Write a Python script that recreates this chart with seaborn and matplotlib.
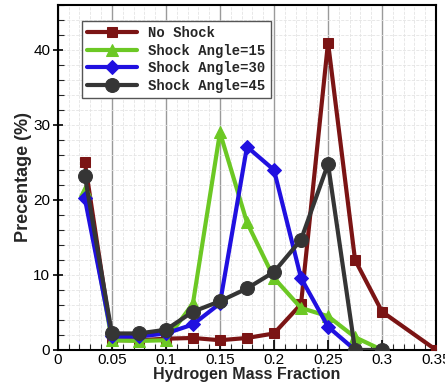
import numpy as np
import pandas as pd
import matplotlib
matplotlib.use("Agg")
import matplotlib.pyplot as plt
from matplotlib.ticker import MultipleLocator
import seaborn as sns

x_no = [0.025, 0.05, 0.075, 0.1, 0.125, 0.15, 0.175, 0.2, 0.225, 0.25, 0.275, 0.3, 0.35]
y_no = [25, 1.3, 1.3, 1.5, 1.6, 1.3, 1.6, 2.2, 6.1, 41, 12, 5.1, 0]

x_15 = [0.025, 0.05, 0.075, 0.1, 0.125, 0.15, 0.175, 0.2, 0.225, 0.25, 0.275, 0.3]
y_15 = [21.3, 1.3, 1.2, 1.3, 6.2, 29, 17, 9.6, 5.6, 4.5, 1.7, 0]

x_30 = [0.025, 0.05, 0.075, 0.1, 0.125, 0.15, 0.175, 0.2, 0.225, 0.25, 0.275]
y_30 = [20.2, 1.8, 1.8, 2.2, 3.4, 6.2, 27.1, 24, 9.6, 3.1, 0]

x_45 = [0.025, 0.05, 0.075, 0.1, 0.125, 0.15, 0.175, 0.2, 0.225, 0.25, 0.275, 0.3]
y_45 = [23.2, 2.2, 2.2, 2.7, 5.1, 6.5, 8.2, 10.4, 14.7, 24.8, 0, 0]

labels = ["No Shock", "Shock Angle=15", "Shock Angle=30", "Shock Angle=45"]
x_ticklabels = ["0", "0.05", "0.1", "0.15", "0.2", "0.25", "0.3", "0.35"]
colors = ["#7b1414", "#6cc824", "#2010e0", "#353535"]
markers = ["s", "^", "D", "o"]
msizes = [7.5, 8, 7.5, 10]

xs = [x_no, x_15, x_30, x_45]
ys = [y_no, y_15, y_30, y_45]

frames = []
for lab, xv, yv in zip(labels, xs, ys):
    frames.append(pd.DataFrame({"x": xv, "y": yv, "series": lab}))
df = pd.concat(frames, ignore_index=True)

sns.set_style("white")
plt.rcParams["font.family"] = ["Liberation Sans", "DejaVu Sans"]
fig = plt.figure(figsize=(4.45, 3.85), dpi=100)
ax = fig.add_axes([0.130, 0.091, 0.850, 0.896])

ax.set_xlim(0, 0.35)
ax.set_ylim(0, 46)
ax.xaxis.set_major_locator(MultipleLocator(0.05))
ax.xaxis.set_minor_locator(MultipleLocator(0.01))
ax.yaxis.set_major_locator(MultipleLocator(10))
ax.yaxis.set_minor_locator(MultipleLocator(2))
ax.grid(True, which="minor", color="#e4e4e4", linewidth=0.6, linestyle="--")
ax.grid(True, which="major", axis="x", color="#9a9a9a", linewidth=1.0)
ax.grid(True, which="major", axis="y", color="#e4e4e4", linewidth=0.6, linestyle="--")
ax.set_axisbelow(True)

for i, lab in enumerate(labels):
    sub = df[df["series"] == lab]
    sns.lineplot(data=sub, x="x", y="y", ax=ax, color=colors[i], marker=markers[i],
                 markersize=msizes[i], markeredgecolor=colors[i], linewidth=3,
                 label=lab, clip_on=True, zorder=3 + i)

for sp in ax.spines.values():
    sp.set_color("black")
    sp.set_linewidth(1.5)

ax.tick_params(axis="x", which="major", direction="in", length=7, width=1.2,
               labelsize=11, colors="black", bottom=True, pad=2)
ax.tick_params(axis="y", which="major", direction="inout", length=7, width=1.2,
               labelsize=11, colors="black", left=True, pad=2)
ax.tick_params(axis="both", which="minor", direction="in", length=4, width=0.8,
               bottom=True, left=True)

ax.set_xticks([0, 0.05, 0.1, 0.15, 0.2, 0.25, 0.3, 0.35])
ax.set_xticklabels(x_ticklabels)
ax.set_xlabel("Hydrogen Mass Fraction", fontsize=11.5, fontweight="bold", labelpad=0)
ax.set_ylabel("Precentage (%)", fontsize=13, fontweight="bold", labelpad=1)

leg = ax.legend(loc="upper left", bbox_to_anchor=(0.045, 0.975), frameon=True,
                fancybox=False, edgecolor="#555555", framealpha=1,
                prop={"family": "Liberation Mono", "weight": "bold", "size": 10},
                handlelength=3.6, borderpad=0.4, labelspacing=0.25, handletextpad=0.8)
leg.get_frame().set_linewidth(1.0)

fig.savefig("out.png", dpi=100)
